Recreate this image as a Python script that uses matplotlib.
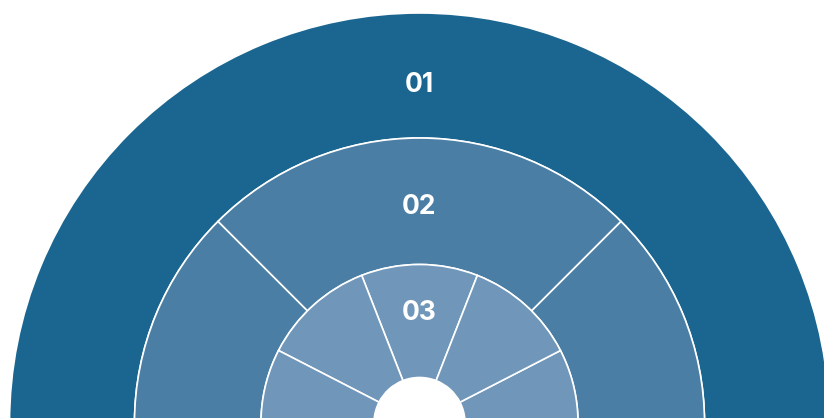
import matplotlib
matplotlib.use("Agg")
import matplotlib.pyplot as plt

# rings, outermost first
ring_labels = ["01", "02", "03"]
outer_values = [1]
middle_values = [90, 90, 90, 90]
inner_values = [42.8, 41.4, 46.9, 46.9, 46.9, 46.9, 46.9, 41.4]

colors = ["#1a6690", "#4a7ea5", "#7097ba"]

plt.rcParams['font.family'] = ['Inter', 'DejaVu Sans']

fig = plt.figure(figsize=(8.24, 4.18), dpi=100)
ax = fig.add_axes([0, 0, 1, 1])

edge = dict(edgecolor='white', linewidth=1.2)

# outer ring 01
ax.pie(outer_values, radius=410, startangle=90, colors=[colors[0]],
       wedgeprops=dict(width=125, **edge))
# middle ring 02
ax.pie(middle_values, radius=285, startangle=45, colors=[colors[1]] * len(middle_values),
       wedgeprops=dict(width=126.5, **edge))
# inner ring 03
ax.pie(inner_values, radius=158.5, startangle=68.6, colors=[colors[2]] * len(inner_values),
       wedgeprops=dict(width=113, **edge))

# labels
label_y = [337.5, 216, 110]
for lab, y in zip(ring_labels, label_y):
    ax.text(-0.5, y, lab, ha='center', va='center', color='white',
            fontsize=19, fontweight='bold')

ax.set_aspect('auto')
ax.set_xlim(-419.5, 824 - 419.5)
ax.set_ylim(423 - 418, 423)
ax.axis('off')

fig.savefig('out.png', dpi=100)
